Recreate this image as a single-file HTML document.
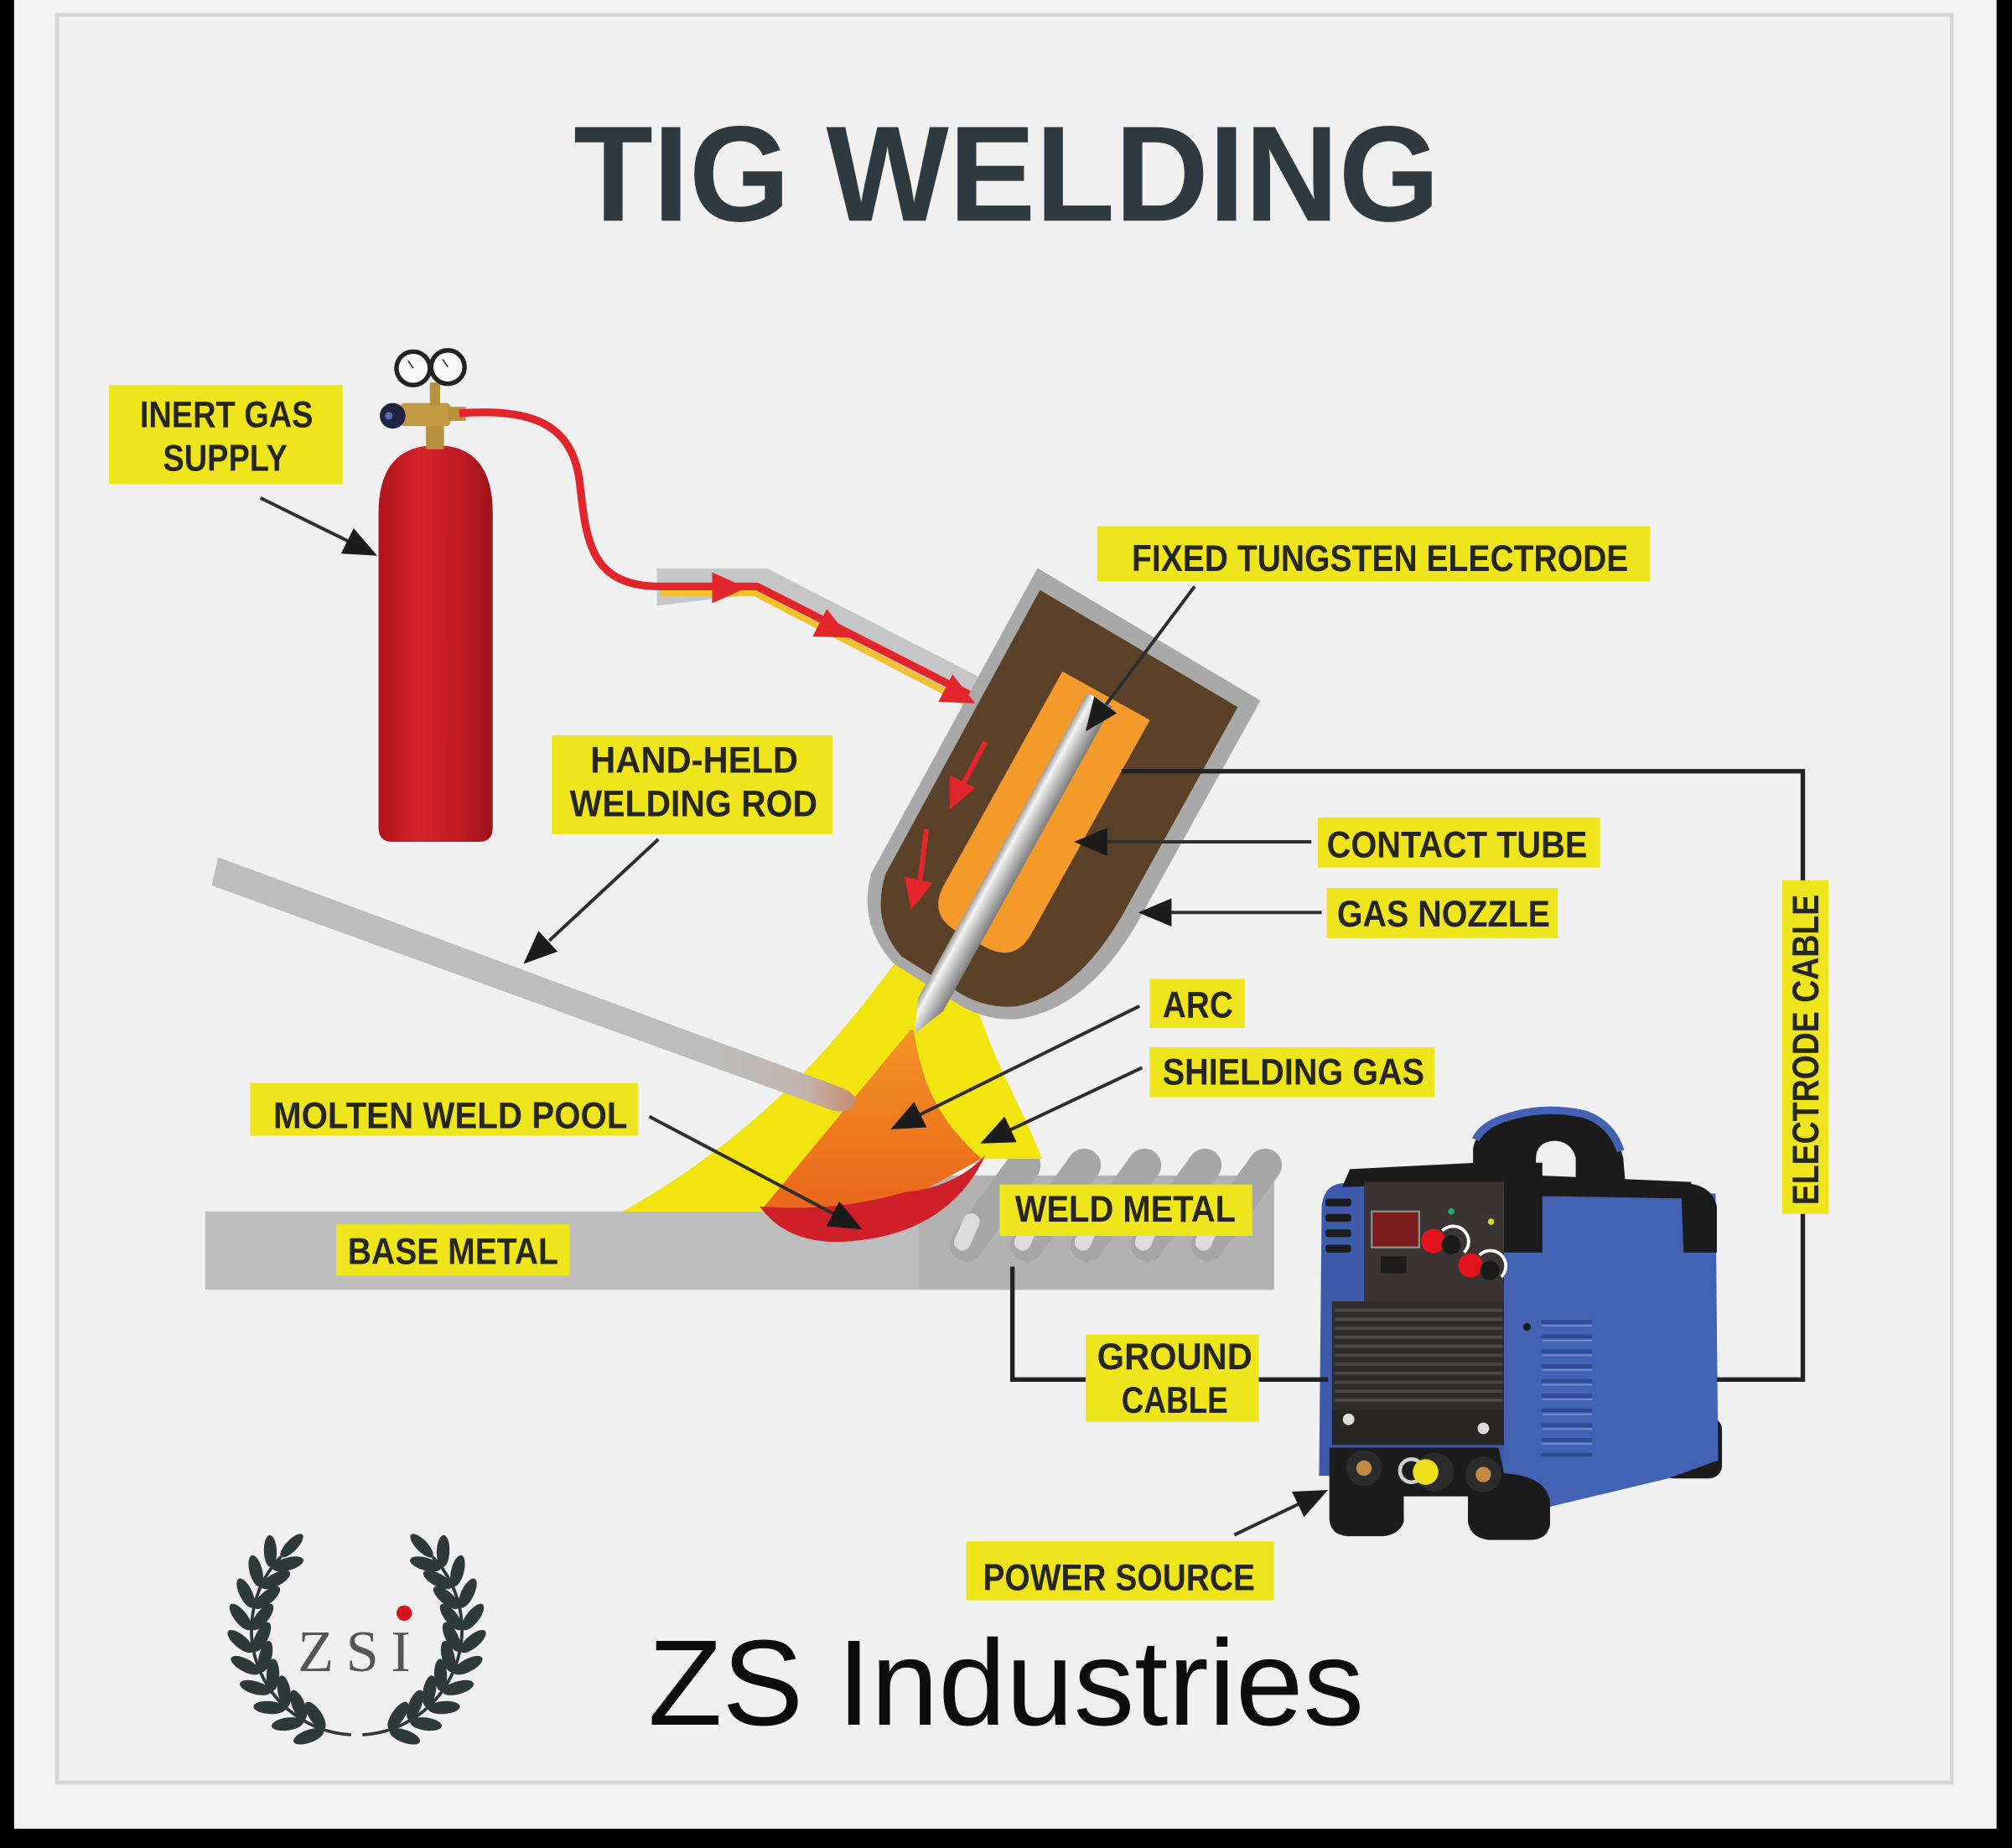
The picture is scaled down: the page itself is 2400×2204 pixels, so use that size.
<!DOCTYPE html>
<html><head><meta charset="utf-8">
<style>
html,body{margin:0;padding:0;background:#f3f3f3;}
body{width:2400px;height:2204px;overflow:hidden;}
svg{display:block;}
.lb{font-family:"Liberation Sans",sans-serif;font-weight:bold;font-size:29px;fill:#26261f;}
.bx{fill:#efe51d;}
.ln{stroke:#2e2e2e;stroke-width:2.6;fill:none;}
.ah{fill:#1c1c1c;}
</style></head><body>
<svg width="2400" height="2204" viewBox="0 0 1568 1440" preserveAspectRatio="none" xmlns="http://www.w3.org/2000/svg">
<defs>
 <linearGradient id="cyl" x1="0" x2="1" y1="0" y2="0">
  <stop offset="0" stop-color="#b0141d"/><stop offset="0.35" stop-color="#d4232b"/><stop offset="0.7" stop-color="#c11b24"/><stop offset="1" stop-color="#9e131b"/>
 </linearGradient>
 <linearGradient id="elec" x1="0" x2="1" y1="0" y2="0">
  <stop offset="0" stop-color="#9a9a9a"/><stop offset="0.25" stop-color="#f4f4f4"/><stop offset="0.6" stop-color="#b8b8b8"/><stop offset="1" stop-color="#7d7d7d"/>
 </linearGradient>
 <linearGradient id="orng" x1="0" y1="0" x2="0" y2="1"><stop offset="0" stop-color="#f39324"/><stop offset="1" stop-color="#e9651b"/></linearGradient>
 <linearGradient id="rod" gradientUnits="userSpaceOnUse" x1="560" y1="0" x2="670" y2="0">
  <stop offset="0" stop-color="#bdbdbd"/><stop offset="0.6" stop-color="#c2b4ad"/><stop offset="1" stop-color="#c58c6a"/>
 </linearGradient>
 <g id="lp">
  <ellipse cx="187.5" cy="1260" rx="12.5" ry="5" transform="rotate(52 187.5 1260)"/>
  <ellipse cx="204.5" cy="1260" rx="12.5" ry="5" transform="rotate(-52 204.5 1260)"/>
 </g>
 <g id="branch" fill="#2d3a37">
  <path d="M273.6,1351.8 A82,82 0 0 1 219,1213" fill="none" stroke="#2d3a37" stroke-width="2.5"/>
  <use href="#lp" transform="rotate(36 278 1270)"/>
  <use href="#lp" transform="rotate(24 278 1270)"/>
  <use href="#lp" transform="rotate(12 278 1270)"/>
  <use href="#lp" transform="rotate(0 278 1270)"/>
  <use href="#lp" transform="rotate(-12 278 1270)"/>
  <use href="#lp" transform="rotate(-24 278 1270)"/>
  <use href="#lp" transform="rotate(-36 278 1270)"/>
  <use href="#lp" transform="rotate(-48 278 1270)"/>
  <use href="#lp" transform="rotate(-60 278 1270)"/>
  <use href="#lp" transform="rotate(-72 278 1270)"/>
  <ellipse cx="196" cy="1258" rx="4.5" ry="12" transform="rotate(44 278 1270)"/>
 </g>
</defs>

<!-- background / frame -->
<rect width="1568" height="1440" fill="#f3f3f3"/>
<rect x="44.5" y="11.5" width="1476.5" height="1377.5" fill="#f0f0f0" stroke="#d6d6d6" stroke-width="3"/>
<rect x="0" y="0" width="11" height="1440" fill="#000"/>
<rect x="1556" y="0" width="12" height="1440" fill="#000"/>
<rect x="0" y="1425" width="1568" height="15" fill="#000"/>

<!-- title -->
<text x="447" y="172" font-family="'Liberation Sans', sans-serif" font-weight="bold" font-size="106" fill="#2e3a40" textLength="675" lengthAdjust="spacingAndGlyphs">TIG WELDING</text>

<!-- gas cylinder -->
<path d="M295,400 Q295,347 340,347 Q384,347 384,400 L384,645 Q384,656 373,656 L306,656 Q295,656 295,645 Z" fill="url(#cyl)"/>
<rect x="332" y="328" width="14" height="22" fill="#b8913f"/>
<rect x="312" y="314" width="39" height="18" rx="3" fill="#c49a45"/>
<rect x="335" y="298" width="8" height="18" fill="#b8913f"/>
<rect x="349" y="317" width="14" height="11" fill="#b8913f"/>
<circle cx="306" cy="324" r="10" fill="#1d2340"/>
<circle cx="303" cy="324" r="3" fill="#5a6bb0"/>
<circle cx="322" cy="287" r="13" fill="#fafafa" stroke="#222" stroke-width="3.5"/>
<circle cx="349" cy="286" r="13" fill="#fafafa" stroke="#222" stroke-width="3.5"/>
<line x1="322" y1="287" x2="318" y2="281" stroke="#444" stroke-width="1.2"/>
<line x1="349" y1="286" x2="345" y2="280" stroke="#444" stroke-width="1.2"/>

<!-- gas pipe -->
<polygon points="512,443 598,443 768,530 758,549 588,463 512,472" fill="#c6c6c6"/>
<path d="M515,462 L588,462 L752,547" fill="none" stroke="#f2c12e" stroke-width="5"/>
<path d="M358,322 C415,318 447,330 452,378 C457,425 462,457 515,457 L590,457 L757,542" fill="none" stroke="#e1252b" stroke-width="6" stroke-linejoin="round"/>
<polygon points="582,458 555,446 555,470" fill="#e3262b"/>
<polygon points="662,497 633.4,495.9 644.3,474.5" fill="#e3262b"/>

<!-- base metal -->
<rect x="160" y="944" width="832" height="61" fill="#bdbdbd"/>
<rect x="716" y="916" width="277" height="89" fill="#b2b2b2"/>
<g stroke="#a6a6a6" stroke-width="26" stroke-linecap="round">
 <line x1="798" y1="908" x2="753" y2="970"/>
 <line x1="845" y1="908" x2="800" y2="970"/>
 <line x1="892" y1="908" x2="847" y2="970"/>
 <line x1="939" y1="908" x2="894" y2="970"/>
 <line x1="986" y1="908" x2="941" y2="970"/>
</g>
<g stroke="#dcdcdc" stroke-width="13" stroke-linecap="round">
 <line x1="757" y1="952" x2="750" y2="968"/>
 <line x1="804" y1="952" x2="797" y2="968"/>
 <line x1="851" y1="952" x2="844" y2="968"/>
 <line x1="898" y1="952" x2="891" y2="968"/>
 <line x1="945" y1="952" x2="938" y2="968"/>
</g>

<!-- shielding gas, arc, pool -->
<path d="M697,751 C660,800 600,880 485,944 L600,944 L763,903 L812,903 C800,870 776,830 763,789 Z" fill="#f2e40f"/>
<path d="M710,802 L594,942 L640,948 L700,938 L765,903 C728,870 718,840 712,803 Z" fill="url(#orng)"/>
<path d="M592,940 Q615,972 665,967 Q740,960 768,900 Q745,925 705,929 Q650,945 592,940 Z" fill="#cf1f29"/>

<!-- torch -->
<g transform="translate(857 545) rotate(29)">
 <path d="M-92,-66 L110,-60 L110,140 Q108,215 66,248 Q44,263 15,261 L-40,258 Q-80,245 -90,205 Z" fill="#a9a9a9"/>
 <path d="M-82,-52 L97,-47 L97,140 Q95,210 60,240 Q40,254 15,253 L-38,250 Q-72,238 -80,200 Z" fill="#5b4128"/>
 <path d="M-36,-5 L42,-5 L42,185 Q42,212 15,212 L-9,212 Q-36,212 -36,185 Z" fill="#f39a2a"/>
 <path d="M-11,0 L11,0 L11,272 L0,298 L-11,272 Z" fill="url(#elec)"/>
</g>
<polygon points="760,548 731.4,546.9 742.3,525.5" fill="#e3262b"/>
<line x1="768" y1="578" x2="750" y2="612" stroke="#e3262b" stroke-width="4"/>
<polygon points="740,631 740,604 760,614" fill="#e3262b"/>
<line x1="722" y1="646" x2="717" y2="686" stroke="#e3262b" stroke-width="4"/>
<polygon points="710,709 705,683 727,688" fill="#e3262b"/>

<!-- welding rod -->
<path d="M170,668 L652,846 Q672,853 665,862 Q660,868 648,865 L165,690 Z" fill="url(#rod)"/>

<!-- power source -->
<rect x="1294" y="1104" width="48" height="48" rx="10" fill="#1c1c1c"/>
<polygon points="1170,928 1337,930 1339,1138 1300,1152 1200,1176 1170,1176" fill="#4462b3"/>
<g stroke="#2e4b98" stroke-width="3">
 <line x1="1201" y1="1030" x2="1241" y2="1030"/><line x1="1201" y1="1041.5" x2="1241" y2="1041.5"/>
 <line x1="1201" y1="1053" x2="1241" y2="1053"/><line x1="1201" y1="1064.5" x2="1241" y2="1064.5"/>
 <line x1="1201" y1="1076" x2="1241" y2="1076"/><line x1="1201" y1="1087.5" x2="1241" y2="1087.5"/>
 <line x1="1201" y1="1099" x2="1241" y2="1099"/><line x1="1201" y1="1110.5" x2="1241" y2="1110.5"/>
 <line x1="1201" y1="1122" x2="1241" y2="1122"/><line x1="1201" y1="1133.5" x2="1241" y2="1133.5"/>
</g>
<g stroke="#7690d3" stroke-width="1.2">
 <line x1="1202" y1="1033" x2="1241" y2="1033"/><line x1="1202" y1="1044.5" x2="1241" y2="1044.5"/>
 <line x1="1202" y1="1056" x2="1241" y2="1056"/><line x1="1202" y1="1067.5" x2="1241" y2="1067.5"/>
 <line x1="1202" y1="1079" x2="1241" y2="1079"/><line x1="1202" y1="1090.5" x2="1241" y2="1090.5"/>
 <line x1="1202" y1="1102" x2="1241" y2="1102"/><line x1="1202" y1="1113.5" x2="1241" y2="1113.5"/>
 <line x1="1202" y1="1125" x2="1241" y2="1125"/>
</g>
<circle cx="1190" cy="1034" r="3" fill="#1c1c1c"/>
<rect x="1168" y="906" width="34" height="70" fill="#1c1c1c"/>
<polygon points="1200,916 1318,921 1318,934 1200,932" fill="#1c1c1c"/>
<path d="M1310,922 Q1334,922 1338,940 L1338,976 L1312,976 Z" fill="#1c1c1c"/>
<path d="M1148,920 L1148,895 Q1150,880 1175,872 Q1206,863 1236,870 Q1259,878 1265,902 L1267,926 L1228,926 L1228,902 Q1224,889 1211,889 Q1197,890 1197,903 L1197,920 Z" fill="#1c1c1c"/>
<path d="M1150,888 Q1156,875 1180,869 Q1206,862 1234,868 Q1256,875 1263,897" fill="none" stroke="#4462b3" stroke-width="6"/>
<path d="M1030,940 Q1032,922 1048,922 L1172,918 L1172,1150 L1028,1150 Z" fill="#3d5aab"/>
<polygon points="1046,925 1052,911 1172,905 1172,921" fill="#1c1c1c"/>
<rect x="1063" y="921" width="109" height="94" fill="#3a3434"/>
<rect x="1038" y="1014" width="134" height="86" fill="#2f2b2b"/>
<g stroke="#4d4747" stroke-width="2.5">
 <line x1="1040" y1="1021" x2="1171" y2="1021"/><line x1="1040" y1="1028" x2="1171" y2="1028"/>
 <line x1="1040" y1="1035" x2="1171" y2="1035"/><line x1="1040" y1="1042" x2="1171" y2="1042"/>
 <line x1="1040" y1="1049" x2="1171" y2="1049"/><line x1="1040" y1="1056" x2="1171" y2="1056"/>
 <line x1="1040" y1="1063" x2="1171" y2="1063"/><line x1="1040" y1="1070" x2="1171" y2="1070"/>
 <line x1="1040" y1="1077" x2="1171" y2="1077"/><line x1="1040" y1="1084" x2="1171" y2="1084"/>
 <line x1="1040" y1="1091" x2="1171" y2="1091"/>
</g>
<rect x="1038" y="1099" width="134" height="27" fill="#2a2626"/>
<rect x="1033" y="934" width="20" height="6" rx="2" fill="#1c1c1c"/>
<rect x="1033" y="946" width="20" height="6" rx="2" fill="#1c1c1c"/>
<rect x="1033" y="958" width="20" height="6" rx="2" fill="#1c1c1c"/>
<rect x="1033" y="970" width="20" height="6" rx="2" fill="#1c1c1c"/>
<rect x="1069" y="944" width="37" height="28" fill="#7b1c1c" stroke="#8d8d8d" stroke-width="1.5"/>
<rect x="1076" y="979" width="20" height="13" fill="#1d1d1d"/>
<circle cx="1131" cy="944" r="2.5" fill="#2aa879"/>
<circle cx="1162" cy="952" r="2.5" fill="#d8d820"/>
<circle cx="1117" cy="967" r="9.5" fill="#e3131d"/>
<path d="M1124,959 A12,12 0 0 1 1141,976" stroke="#fff" stroke-width="2.5" fill="none"/>
<circle cx="1131" cy="970" r="7.5" fill="#1a1a1a"/>
<circle cx="1146" cy="986" r="9.5" fill="#e3131d"/>
<path d="M1153,978 A12,12 0 0 1 1170,995" stroke="#fff" stroke-width="2.5" fill="none"/>
<circle cx="1161" cy="990" r="7.5" fill="#1a1a1a"/>
<path d="M1036,1128 L1168,1128 L1172,1148 Q1205,1150 1208,1170 L1208,1188 Q1206,1200 1192,1200 L1160,1200 Q1146,1198 1144,1186 L1144,1166 L1094,1166 L1094,1186 Q1090,1196 1078,1197 L1050,1197 Q1037,1196 1036,1184 Z" fill="#1c1c1c"/>
<circle cx="1051" cy="1106" r="4.5" fill="#dedede"/>
<circle cx="1156" cy="1113" r="4.5" fill="#dedede"/>
<circle cx="1063" cy="1144" r="14" fill="#2b2b2b"/><circle cx="1063" cy="1144" r="6" fill="#c38a45"/>
<circle cx="1118" cy="1147" r="15" fill="#2b2b2b"/>
<circle cx="1100" cy="1146" r="9" fill="none" stroke="#cfcfcf" stroke-width="3"/>
<circle cx="1111" cy="1147" r="10" fill="#eee01a"/>
<circle cx="1156" cy="1149" r="14" fill="#2b2b2b"/><circle cx="1156" cy="1149" r="6" fill="#c38a45"/>

<!-- cables -->
<path d="M874,601 L1405,601 L1405,1075 L1338,1075" fill="none" stroke="#222" stroke-width="3.5"/>
<path d="M789,987 L789,1075 L1035,1075" fill="none" stroke="#222" stroke-width="3.5"/>

<!-- pointer arrows -->
<line class="ln" x1="203" y1="388" x2="272" y2="422"/>
<polygon class="ah" points="294,433 265.8,431.4 275.6,411.6"/>
<line class="ln" x1="513" y1="654" x2="428" y2="733"/>
<polygon class="ah" points="408,751 419.6,725.3 434.6,741.5"/>
<line class="ln" x1="506" y1="870" x2="650" y2="946"/>
<polygon class="ah" points="672,958 643.9,955.5 654.2,936.1"/>
<line class="ln" x1="888" y1="784" x2="716" y2="869"/>
<polygon class="ah" points="694,880 712.4,858.6 722.2,878.4"/>
<line class="ln" x1="890" y1="832" x2="786" y2="881"/>
<polygon class="ah" points="764,891 782.9,870 792.3,890"/>
<line class="ln" x1="931" y1="457" x2="862" y2="549"/>
<polygon class="ah" points="846,570 852.8,542.6 870.4,555.8"/>
<line class="ln" x1="862" y1="656" x2="1022" y2="656"/>
<polygon class="ah" points="837,656 863,645 863,667"/>
<line class="ln" x1="912" y1="711" x2="1030" y2="711"/>
<polygon class="ah" points="887,711 913,700 913,722"/>
<line class="ln" x1="962" y1="1196" x2="1012" y2="1172"/>
<polygon class="ah" points="1035,1161 1016.3,1182.1 1006.8,1162.3"/>

<!-- labels -->
<rect class="bx" x="85" y="300" width="182" height="77"/>
<text class="lb" x="109" y="333" textLength="135" lengthAdjust="spacingAndGlyphs">INERT GAS</text>
<text class="lb" x="127" y="367" textLength="97" lengthAdjust="spacingAndGlyphs">SUPPLY</text>

<rect class="bx" x="855" y="410" width="431" height="43"/>
<text class="lb" x="882" y="445" textLength="387" lengthAdjust="spacingAndGlyphs">FIXED TUNGSTEN ELECTRODE</text>

<rect class="bx" x="430" y="573" width="219" height="77"/>
<text class="lb" x="460" y="602" textLength="162" lengthAdjust="spacingAndGlyphs">HAND-HELD</text>
<text class="lb" x="444" y="636" textLength="193" lengthAdjust="spacingAndGlyphs">WELDING ROD</text>

<rect class="bx" x="1027" y="637" width="220" height="39"/>
<text class="lb" x="1034" y="668" textLength="203" lengthAdjust="spacingAndGlyphs">CONTACT TUBE</text>

<rect class="bx" x="1034" y="692" width="180" height="39"/>
<text class="lb" x="1042" y="722" textLength="166" lengthAdjust="spacingAndGlyphs">GAS NOZZLE</text>

<rect class="bx" x="896" y="763" width="74" height="38"/>
<text class="lb" x="906" y="793" textLength="55" lengthAdjust="spacingAndGlyphs">ARC</text>

<rect class="bx" x="896" y="816" width="222" height="39"/>
<text class="lb" x="906" y="845" textLength="204" lengthAdjust="spacingAndGlyphs">SHIELDING GAS</text>

<rect class="bx" x="195" y="844" width="302" height="41"/>
<text class="lb" x="213" y="879" textLength="276" lengthAdjust="spacingAndGlyphs">MOLTEN WELD POOL</text>

<rect class="bx" x="779" y="923" width="197" height="40"/>
<text class="lb" x="791" y="952" textLength="172" lengthAdjust="spacingAndGlyphs">WELD METAL</text>

<rect class="bx" x="262" y="954" width="182" height="40"/>
<text class="lb" x="271" y="985" textLength="164" lengthAdjust="spacingAndGlyphs">BASE METAL</text>

<rect class="bx" x="846" y="1040" width="135" height="68"/>
<text class="lb" x="855" y="1067" textLength="121" lengthAdjust="spacingAndGlyphs">GROUND</text>
<text class="lb" x="874" y="1101" textLength="83" lengthAdjust="spacingAndGlyphs">CABLE</text>

<rect class="bx" x="1389" y="686" width="36" height="260"/>
<text class="lb" transform="translate(1417 939) rotate(-90)" x="0" y="0" textLength="242" lengthAdjust="spacingAndGlyphs">ELECTRODE CABLE</text>

<rect class="bx" x="753" y="1201" width="240" height="46"/>
<text class="lb" x="766" y="1239" textLength="212" lengthAdjust="spacingAndGlyphs">POWER SOURCE</text>

<!-- logo -->
<use href="#branch"/>
<g transform="translate(556 0) scale(-1 1)"><use href="#branch"/></g>
<text x="232" y="1302" font-family="'Liberation Serif', serif" font-size="46" fill="#555" textLength="88" lengthAdjust="spacing">ZSI</text>
<circle cx="315" cy="1257" r="6" fill="#d9141c"/>

<text x="505" y="1344" font-family="'Liberation Sans', sans-serif" font-size="95" fill="#0d0d0d" textLength="558" lengthAdjust="spacingAndGlyphs">ZS Industries</text>
</svg>
</body></html>
